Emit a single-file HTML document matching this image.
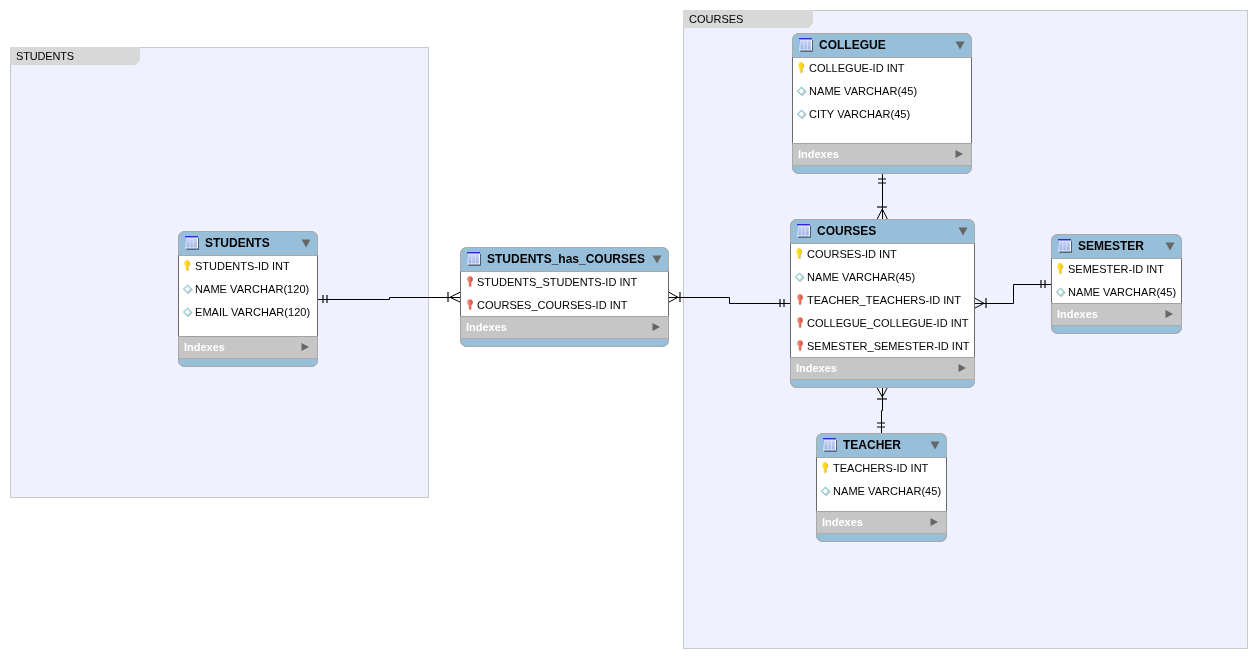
<!DOCTYPE html>
<html><head><meta charset="utf-8"><title>EER Diagram</title>
<style>
html,body{margin:0;padding:0;background:#fff;}
body{width:1257px;height:658px;position:relative;overflow:hidden;font-family:"Liberation Sans",sans-serif;color:#000;}
.rg{position:absolute;box-sizing:border-box;background:#f0f1fe;border:1px solid #c9c9c9;}
.tab{position:absolute;left:-1px;top:-1px;background:#d8d8d8;font-size:11px;line-height:13px;white-space:nowrap;}
.tab span{position:absolute;will-change:transform;left:6px;top:3px;}
.tb{position:absolute;box-sizing:border-box;border-radius:7px;background:#98bfda;overflow:hidden;box-shadow:inset 0 0 0 1px #a9a9a9;}
.bd{position:absolute;left:0;right:0;background:#fff;border-top:1px solid #a8a8a8;border-left:1px solid #6a6a6a;border-right:1px solid #6a6a6a;box-sizing:border-box;}
.ix{position:absolute;left:0;right:0;background:#c6c6c6;border-top:1px solid #a2a2a2;border-bottom:1px solid #adadad;border-left:1px solid #a9a9a9;border-right:1px solid #a9a9a9;box-sizing:border-box;}
.ix span{position:absolute;left:5px;will-change:transform;font-size:11px;font-weight:bold;color:#fff;line-height:13px;white-space:nowrap;}
.tt{position:absolute;will-change:transform;font-size:12px;font-weight:bold;line-height:14px;white-space:nowrap;}
.rw{position:absolute;will-change:transform;font-size:11px;line-height:13px;white-space:nowrap;}
svg{position:absolute;left:0;top:0;overflow:visible;}
</style></head>
<body>
<div class="rg" style="left:10px;top:47px;width:419px;height:451px"><div class="tab" style="width:130px;height:18px;clip-path:polygon(0 0,130px 0,130px 13.4px,125.4px 18px,0 18px)"><span style="letter-spacing:-0.16px">STUDENTS</span></div></div>
<div class="rg" style="left:683px;top:10px;width:565px;height:639px"><div class="tab" style="width:130px;height:18px;clip-path:polygon(0 0,130px 0,130px 13.4px,125.4px 18px,0 18px)"><span>COURSES</span></div></div>
<svg width="1257" height="658" viewBox="0 0 1257 658">
<g fill="none" stroke="#000" stroke-width="1">
<path d="M318,299.5 H389.5 V297.5 H460"/>
<path d="M450,297.3 L460.5,292 M450,297.3 L460.5,302.3"/>
<path d="M669,297.5 H729.5 V303.5 H790.5"/>
<path d="M678,297.3 L668.5,292 M678,297.3 L668.5,302.3"/>
<path d="M882.5,174 V219"/>
<path d="M882.3,209 L877,219.5 M882.3,209 L887.6,219.5"/>
<path d="M882.5,388 V410.5 H881.5 V433"/>
<path d="M882.3,397 L877,387.5 M882.3,397 L887.4,387.5"/>
<path d="M975,303.5 H1013.5 V284.5 H1051"/>
<path d="M984,303.3 L974.5,298 M984,303.3 L974.5,308.3"/>
</g>
<g fill="none" stroke="#000" stroke-width="1.15">
<path d="M323,295 V303 M327,295 V303"/>
<path d="M448,292 V302"/>
<path d="M680,292 V302"/>
<path d="M780,299 V307 M784,299 V307"/>
<path d="M878,179 H886 M878,183 H886"/>
<path d="M877,207 H887"/>
<path d="M877,399 H887"/>
<path d="M877,423 H885 M877,427 H885"/>
<path d="M986,298 V308"/>
<path d="M1041,280 V288 M1045,280 V288"/>
</g>
</svg>
<div class="tb" style="left:178px;top:231px;width:140px;height:136px">
<div class="bd" style="top:24px;height:81px"></div>
<div class="ix" style="top:105px;height:23px"><span style="top:4px">Indexes</span></div>
</div>
<div class="tb" style="left:460px;top:247px;width:209px;height:100px">
<div class="bd" style="top:24px;height:45px"></div>
<div class="ix" style="top:69px;height:23px"><span style="top:4px">Indexes</span></div>
</div>
<div class="tb" style="left:792px;top:33px;width:180px;height:141px">
<div class="bd" style="top:24px;height:86px"></div>
<div class="ix" style="top:110px;height:23px"><span style="top:4px">Indexes</span></div>
</div>
<div class="tb" style="left:790px;top:219px;width:185px;height:169px">
<div class="bd" style="top:24px;height:114px"></div>
<div class="ix" style="top:138px;height:23px"><span style="top:4px">Indexes</span></div>
</div>
<div class="tb" style="left:816px;top:433px;width:131px;height:109px">
<div class="bd" style="top:24px;height:54px"></div>
<div class="ix" style="top:78px;height:23px"><span style="top:4px">Indexes</span></div>
</div>
<div class="tb" style="left:1051px;top:234px;width:131px;height:100px">
<div class="bd" style="top:24px;height:45px"></div>
<div class="ix" style="top:69px;height:23px"><span style="top:4px">Indexes</span></div>
</div>
<svg width="1257" height="658" viewBox="0 0 1257 658">
<defs>
<linearGradient id="gtb" x1="0" y1="0" x2="0" y2="1"><stop offset="0" stop-color="#c6d3f3"/><stop offset="1" stop-color="#9cb3e3"/></linearGradient>
<linearGradient id="gtl" x1="0" y1="0" x2="0" y2="1"><stop offset="0" stop-color="#8ea8ee"/><stop offset="1" stop-color="#d4defa"/></linearGradient>
<linearGradient id="gpk" x1="0" y1="0" x2="1" y2="0"><stop offset="0" stop-color="#ffe648"/><stop offset="0.45" stop-color="#ffdb20"/><stop offset="1" stop-color="#f6bf00"/></linearGradient>
<linearGradient id="gfk" x1="0" y1="0" x2="1" y2="0"><stop offset="0" stop-color="#f0a08a"/><stop offset="0.5" stop-color="#ea725a"/><stop offset="1" stop-color="#d8442c"/></linearGradient>
<filter id="bl" x="-50%" y="-50%" width="200%" height="200%"><feGaussianBlur stdDeviation="0.5"/></filter>
<symbol id="tbl" width="15" height="15" viewBox="0 0 15 15" overflow="visible">
  <rect x="1.3" y="1.8" width="12.5" height="11.9" fill="#2f3c52" opacity="0.9" filter="url(#bl)"/>
  <rect x="0" y="0" width="13" height="12.5" fill="#f6f8ff"/>
  <rect x="0" y="0" width="13" height="1.5" fill="#2c2cd4"/>
  <rect x="0" y="1.5" width="1" height="11" fill="url(#gtl)"/>
  <rect x="1.3" y="2.3" width="10.5" height="9.2" fill="url(#gtb)"/>
  <rect x="4.4" y="2.3" width="0.9" height="9.2" fill="#dde7fa"/>
  <rect x="7.8" y="2.3" width="0.9" height="9.2" fill="#dde7fa"/>
</symbol>
<symbol id="pk" width="12" height="13" viewBox="0 0 12 13" overflow="visible">
  <path d="M4.0,0.4 C5.30,0.4 6.85,2.30 6.85,4.00 C6.85,5.70 5.60,6.70 4.0,6.70 C2.40,6.70 1.15,5.70 1.15,4.00 C1.15,2.30 2.70,0.4 4.0,0.4 Z M2.60,5.5 L5.40,5.5 L5.40,10.10 L4.70,11.1 L3.30,11.1 L2.60,10.10 Z" fill="#9aa0d0" opacity="0.5" transform="translate(0.6,0.6)" filter="url(#bl)"/>
  <path d="M4.0,0.4 C5.30,0.4 6.85,2.30 6.85,4.00 C6.85,5.70 5.60,6.70 4.0,6.70 C2.40,6.70 1.15,5.70 1.15,4.00 C1.15,2.30 2.70,0.4 4.0,0.4 Z M2.60,5.5 L5.40,5.5 L5.40,10.10 L4.70,11.1 L3.30,11.1 L2.60,10.10 Z" fill="url(#gpk)"/>
</symbol>
<symbol id="fk" width="12" height="13" viewBox="0 0 12 13" overflow="visible">
  <path d="M2.10,3.70 a2.8,2.9 0 1,1 5.60,0 a2.8,2.9 0 1,1 -5.60,0 Z M3.65,5.5 L6.15,5.5 L6.15,10.30 L5.45,11.3 L4.35,11.3 L3.65,10.30 Z" fill="#b0b8c8" opacity="0.45" transform="translate(0.6,0.6)" filter="url(#bl)"/>
  <path d="M2.10,3.70 a2.8,2.9 0 1,1 5.60,0 a2.8,2.9 0 1,1 -5.60,0 Z M3.65,5.5 L6.15,5.5 L6.15,10.30 L5.45,11.3 L4.35,11.3 L3.65,10.30 Z" fill="url(#gfk)"/>
</symbol>
<symbol id="col" width="12" height="13" viewBox="0 0 12 13" overflow="visible">
  <path d="M4.4,2.8 L8.1,6.5 L4.4,10.2 L0.7,6.5 Z" fill="none" stroke="#8a7a84" stroke-width="1.2" opacity="0.5" transform="translate(0.8,0.8)" filter="url(#bl)"/>
  <path d="M4.4,2.8 L8.1,6.5 L4.4,10.2 L0.7,6.5 Z" fill="#fff" stroke="#98cfd4" stroke-width="1.3"/>
</symbol>
</defs>

<use href="#tbl" x="185" y="236.0"/>
<path d="M301.5,239.5 h9 l-4.5,8 z" fill="#666"/>
<path d="M301.5,342.9 v8.2 l7.5,-4.1 z" fill="#666"/>
<use href="#pk" x="183" y="259.5"/>
<use href="#col" x="183" y="282.5"/>
<use href="#col" x="183" y="305.5"/>
<use href="#tbl" x="467" y="252.0"/>
<path d="M652.5,255.5 h9 l-4.5,8 z" fill="#666"/>
<path d="M652.5,322.9 v8.2 l7.5,-4.1 z" fill="#666"/>
<use href="#fk" x="465" y="275.5"/>
<use href="#fk" x="465" y="298.5"/>
<use href="#tbl" x="799" y="38.0"/>
<path d="M955.5,41.5 h9 l-4.5,8 z" fill="#666"/>
<path d="M955.5,149.9 v8.2 l7.5,-4.1 z" fill="#666"/>
<use href="#pk" x="797" y="61.5"/>
<use href="#col" x="797" y="84.5"/>
<use href="#col" x="797" y="107.5"/>
<use href="#tbl" x="797" y="224.0"/>
<path d="M958.5,227.5 h9 l-4.5,8 z" fill="#666"/>
<path d="M958.5,363.9 v8.2 l7.5,-4.1 z" fill="#666"/>
<use href="#pk" x="795" y="247.5"/>
<use href="#col" x="795" y="270.5"/>
<use href="#fk" x="795" y="293.5"/>
<use href="#fk" x="795" y="316.5"/>
<use href="#fk" x="795" y="339.5"/>
<use href="#tbl" x="823" y="438.0"/>
<path d="M930.5,441.5 h9 l-4.5,8 z" fill="#666"/>
<path d="M930.5,517.9 v8.2 l7.5,-4.1 z" fill="#666"/>
<use href="#pk" x="821" y="461.5"/>
<use href="#col" x="821" y="484.5"/>
<use href="#tbl" x="1058" y="239.0"/>
<path d="M1165.5,242.5 h9 l-4.5,8 z" fill="#666"/>
<path d="M1165.5,309.9 v8.2 l7.5,-4.1 z" fill="#666"/>
<use href="#pk" x="1056" y="262.5"/>
<use href="#col" x="1056" y="285.5"/>
</svg>
<div class="tt" style="left:205px;top:236.0px">STUDENTS</div>
<div class="rw" style="left:195.2px;top:259.5px">STUDENTS-ID INT</div>
<div class="rw" style="left:195.2px;top:282.5px;letter-spacing:0.05px">NAME VARCHAR(120)</div>
<div class="rw" style="left:195.2px;top:305.5px;letter-spacing:0.05px">EMAIL VARCHAR(120)</div>
<div class="tt" style="left:487px;top:252.0px">STUDENTS_has_COURSES</div>
<div class="rw" style="left:477.2px;top:275.5px">STUDENTS_STUDENTS-ID INT</div>
<div class="rw" style="left:477.2px;top:298.5px">COURSES_COURSES-ID INT</div>
<div class="tt" style="left:819px;top:38.0px">COLLEGUE</div>
<div class="rw" style="left:809.2px;top:61.5px">COLLEGUE-ID INT</div>
<div class="rw" style="left:809.2px;top:84.5px;letter-spacing:0.05px">NAME VARCHAR(45)</div>
<div class="rw" style="left:809.2px;top:107.5px;letter-spacing:0.05px">CITY VARCHAR(45)</div>
<div class="tt" style="left:817px;top:224.0px">COURSES</div>
<div class="rw" style="left:807.2px;top:247.5px">COURSES-ID INT</div>
<div class="rw" style="left:807.2px;top:270.5px;letter-spacing:0.05px">NAME VARCHAR(45)</div>
<div class="rw" style="left:807.2px;top:293.5px">TEACHER_TEACHERS-ID INT</div>
<div class="rw" style="left:807.2px;top:316.5px">COLLEGUE_COLLEGUE-ID INT</div>
<div class="rw" style="left:807.2px;top:339.5px">SEMESTER_SEMESTER-ID INT</div>
<div class="tt" style="left:843px;top:438.0px">TEACHER</div>
<div class="rw" style="left:833.2px;top:461.5px">TEACHERS-ID INT</div>
<div class="rw" style="left:833.2px;top:484.5px;letter-spacing:0.05px">NAME VARCHAR(45)</div>
<div class="tt" style="left:1078px;top:239.0px">SEMESTER</div>
<div class="rw" style="left:1068.2px;top:262.5px">SEMESTER-ID INT</div>
<div class="rw" style="left:1068.2px;top:285.5px;letter-spacing:0.05px">NAME VARCHAR(45)</div>
</body></html>
